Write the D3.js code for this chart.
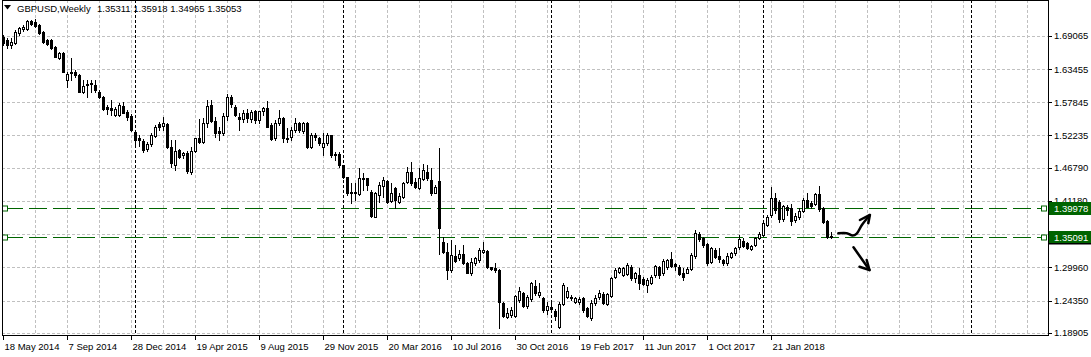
<!DOCTYPE html>
<html><head><meta charset="utf-8">
<script src="https://cdn.jsdelivr.net/npm/d3@7"></script>
<style>
body{margin:0;background:#fff;overflow:hidden}
svg{display:block}
text{font-family:"Liberation Sans",Arial,sans-serif;font-size:9.5px;fill:#000}
</style></head><body>
<svg id="chart" width="1091" height="357"></svg>
<script>
const title = "GBPUSD,Weekly";
const lastQuote = ["1.35311", "1.35918", "1.34965", "1.35053"];
const firstWeek = "2014-05-18";

const opens = [1.6891,1.6836,1.6756,1.6790,1.6959,1.7016,1.7021,1.7157,1.7135,1.7089,
1.6976,1.6836,1.6836,1.6723,1.6537,1.6611,1.6160,1.6273,1.6300,1.6244,
1.5962,1.6076,1.6092,1.6076,1.5962,1.5868,1.5709,1.5687,1.5569,1.5569,
1.5721,1.5625,1.5552,1.5287,1.5180,1.5135,1.4989,1.5074,1.5214,1.5412,
1.5383,1.5412,1.5034,1.4716,1.4978,1.4893,1.4932,1.4611,1.4961,1.5175,
1.5118,1.5429,1.5738,1.5473,1.5298,1.5260,1.5552,1.5878,1.5709,1.5540,
1.5496,1.5608,1.5496,1.5636,1.5484,1.5641,1.5682,1.5400,1.5175,1.5429,
1.5513,1.5186,1.5192,1.5315,1.5429,1.5304,1.5440,1.5034,1.5231,1.5175,
1.5034,1.5091,1.5231,1.4905,1.4910,1.4724,1.4516,1.4273,1.4256,1.4234,
1.4483,1.4499,1.4273,1.3851,1.4218,1.4370,1.4454,1.4116,1.4331,1.4104,
1.4189,1.4442,1.4601,1.4432,1.4331,1.4483,1.4611,1.4471,1.4256,1.4454,
1.3429,1.3260,1.2951,1.3187,1.3148,1.3221,1.3074,1.2900,1.3064,1.3119,
1.3260,1.3277,1.2996,1.2979,1.2951,1.2398,1.2152,1.2190,1.2174,1.2444,
1.2567,1.2342,1.2456,1.2680,1.2528,1.2483,1.2275,1.2320,1.2258,1.1993,
1.2376,1.2500,1.2500,1.2415,1.2405,1.2472,1.2313,1.2135,1.2388,1.2489,
1.2545,1.2376,1.2511,1.2827,1.2922,1.2866,1.2883,1.3006,1.2810,1.2866,
1.2793,1.2697,1.2726,1.2866,1.2996,1.2895,1.3006,1.3131,1.3052,1.3006,
1.2895,1.2905,1.2962,1.3187,1.3559,1.3486,1.3390,1.3091,1.3288,1.3187,
1.3119,1.3064,1.3165,1.3233,1.3334,1.3441,1.3407,1.3300,1.3373,1.3486,
1.3550,1.3711,1.3880,1.4161,1.4104,1.3807,1.4020,1.3993,1.3795,1.3841,
1.3952,1.4133,1.4087,1.4066,1.4235,1.3993,1.3783,1.35311];

const highs = [1.6920,1.6864,1.6869,1.7005,1.7055,1.7089,1.7174,1.7174,1.7182,1.7106,
1.6988,1.6853,1.6853,1.6734,1.6633,1.6633,1.6295,1.6526,1.6329,1.6261,
1.6160,1.6160,1.6160,1.6160,1.5991,1.5890,1.5738,1.5822,1.5704,1.5772,
1.5794,1.5653,1.5586,1.5315,1.5231,1.5163,1.5113,1.5265,1.5400,1.5456,
1.5540,1.5434,1.5146,1.5146,1.4995,1.4949,1.4961,1.5033,1.5180,1.5496,
1.5513,1.5822,1.5822,1.5540,1.5371,1.5597,1.5923,1.5907,1.5738,1.5597,
1.5653,1.5665,1.5653,1.5653,1.5641,1.5709,1.5810,1.5428,1.5484,1.5653,
1.5540,1.5344,1.5371,1.5513,1.5456,1.5456,1.5456,1.5260,1.5260,1.5203,
1.5260,1.5260,1.5231,1.4949,1.4949,1.4724,1.4527,1.4415,1.4415,1.4668,
1.4584,1.4510,1.4302,1.4273,1.4442,1.4527,1.4471,1.4415,1.4358,1.4246,
1.4442,1.4695,1.4780,1.4499,1.4668,1.4741,1.4724,1.4668,1.4386,1.5006,
1.3513,1.3401,1.3457,1.3373,1.3288,1.3373,1.3091,1.3148,1.3175,1.3317,
1.3429,1.3288,1.3006,1.3064,1.2962,1.2415,1.2304,1.2331,1.2528,1.2669,
1.2584,1.2528,1.2753,1.2782,1.2726,1.2500,1.2415,1.2415,1.2287,1.2410,
1.2726,1.2669,1.2528,1.2500,1.2494,1.2500,1.2331,1.2444,1.2528,1.2613,
1.2579,1.2567,1.2837,1.2979,1.3006,1.3006,1.3064,1.3035,1.2922,1.2979,
1.2837,1.2810,1.2866,1.3035,1.3018,1.3131,1.3131,1.3260,1.3074,1.3035,
1.2979,1.3006,1.3233,1.3626,1.3598,1.3513,1.3401,1.3344,1.3317,1.3317,
1.3131,1.3233,1.3260,1.3334,1.3542,1.3486,1.3429,1.3373,1.3513,1.3592,
1.3766,1.3880,1.4348,1.4246,1.4133,1.4049,1.4049,1.4066,1.3908,1.3993,
1.4161,1.4246,1.4121,1.4257,1.4369,1.4020,1.3795,1.35918];

const lows = [1.6751,1.6695,1.6700,1.6768,1.6920,1.6988,1.7005,1.7089,1.7055,1.6937,
1.6785,1.6751,1.6684,1.6548,1.6515,1.6295,1.6047,1.6160,1.6211,1.5957,
1.5935,1.5868,1.5962,1.5962,1.5856,1.5653,1.5586,1.5569,1.5552,1.5552,
1.5597,1.5484,1.5298,1.5023,1.5045,1.4949,1.4961,1.5045,1.5197,1.5315,
1.5315,1.5011,1.4695,1.4640,1.4837,1.4837,1.4589,1.4572,1.4949,1.5091,
1.5091,1.5371,1.5456,1.5202,1.5146,1.5231,1.5484,1.5709,1.5552,1.5315,
1.5456,1.5456,1.5456,1.5429,1.5429,1.5569,1.5360,1.5146,1.5146,1.5400,
1.5118,1.5118,1.5146,1.5287,1.5287,1.5260,1.5006,1.5006,1.5146,1.5062,
1.4893,1.5062,1.4865,1.4809,1.4696,1.4499,1.4218,1.4078,1.4133,1.4218,
1.4302,1.4302,1.3851,1.3840,1.4104,1.4189,1.4077,1.4104,1.3993,1.4077,
1.4162,1.4415,1.4386,1.4331,1.4314,1.4471,1.4471,1.4218,1.4246,1.3229,
1.3233,1.2793,1.2922,1.3091,1.3119,1.3052,1.2895,1.2866,1.3035,1.3091,
1.3233,1.2979,1.2951,1.2922,1.1966,1.2152,1.2135,1.2162,1.2152,1.2415,
1.2331,1.2303,1.2432,1.2528,1.2500,1.2246,1.2207,1.2246,1.2106,1.1966,
1.2359,1.2478,1.2444,1.2388,1.2376,1.2246,1.2157,1.2106,1.2359,1.2461,
1.2376,1.2359,1.2500,1.2810,1.2895,1.2849,1.2866,1.2782,1.2753,1.2624,
1.2697,1.2584,1.2714,1.2837,1.2810,1.2866,1.2962,1.2996,1.2951,1.2866,
1.2782,1.2895,1.2951,1.3148,1.3445,1.3344,1.3035,1.3064,1.3148,1.3091,
1.3035,1.3035,1.3148,1.3204,1.3300,1.3339,1.3300,1.3288,1.3356,1.3469,
1.3542,1.3694,1.3851,1.3908,1.3767,1.3783,1.3880,1.3711,1.3767,1.3807,
1.3935,1.4010,1.3993,1.4049,1.3952,1.3749,1.3486,1.34965];

const closes = [1.6780,1.6751,1.6802,1.6976,1.7033,1.7050,1.7157,1.7106,1.7072,1.6949,
1.6797,1.6768,1.6695,1.6554,1.6611,1.6300,1.6261,1.6300,1.6244,1.5962,
1.6059,1.6092,1.6104,1.5991,1.5868,1.5665,1.5665,1.5653,1.5665,1.5738,
1.5608,1.5540,1.5315,1.5146,1.5146,1.4978,1.5074,1.5231,1.5371,1.5371,
1.5429,1.5034,1.4750,1.4961,1.4859,1.4927,1.4628,1.4961,1.5175,1.5118,
1.5429,1.5721,1.5473,1.5270,1.5260,1.5552,1.5878,1.5755,1.5569,1.5496,
1.5597,1.5513,1.5614,1.5484,1.5636,1.5682,1.5371,1.5158,1.5439,1.5513,
1.5175,1.5158,1.5315,1.5429,1.5315,1.5429,1.5034,1.5231,1.5192,1.5091,
1.5101,1.5231,1.4893,1.4888,1.4724,1.4516,1.4246,1.4246,1.4273,1.4499,
1.4499,1.4386,1.3862,1.4246,1.4386,1.4471,1.4104,1.4246,1.4133,1.4200,
1.4415,1.4611,1.4415,1.4358,1.4499,1.4640,1.4499,1.4246,1.4358,1.3668,
1.3260,1.2951,1.3204,1.3108,1.3221,1.3064,1.2905,1.3091,1.3148,1.3288,
1.3288,1.2996,1.2962,1.2951,1.2415,1.2174,1.2229,1.2275,1.2511,1.2596,
1.2342,1.2500,1.2726,1.2557,1.2584,1.2275,1.2342,1.2287,1.2179,1.2376,
1.2697,1.2596,1.2472,1.2472,1.2461,1.2275,1.2174,1.2398,1.2483,1.2557,
1.2393,1.2540,1.2810,1.2951,1.2979,1.2989,1.3035,1.2810,1.2905,1.2736,
1.2714,1.2782,1.2837,1.3018,1.2866,1.3108,1.3119,1.3018,1.3018,1.2883,
1.2837,1.2962,1.3204,1.3582,1.3469,1.3373,1.3064,1.3317,1.3175,1.3131,
1.3064,1.3187,1.3233,1.3317,1.3469,1.3351,1.3317,1.3356,1.3486,1.3564,
1.3736,1.3851,1.4161,1.3964,1.3807,1.4032,1.3964,1.3783,1.3863,1.3952,
1.4133,1.4020,1.4032,1.4235,1.3976,1.3767,1.3503,1.35053];

const priceTicks = [1.69065,1.63455,1.57845,1.52235,1.46790,1.41180,1.35570,1.29960,1.24350,1.18905];
const dateLabels = ["18 May 2014","7 Sep 2014","28 Dec 2014","19 Apr 2015","9 Aug 2015","29 Nov 2015",
"20 Mar 2016","10 Jul 2016","30 Oct 2016","19 Feb 2017","11 Jun 2017","1 Oct 2017","21 Jan 2018"];
const levels = [1.39978, 1.35091];
// hand drawn arrows, in (bar index, price)
const arrowUp = [[208.7,1.3570],[210.8,1.3572],[212.3,1.3532],[213.3,1.3566],[214.6,1.3711],[216.6,1.3880]];
const arrowUpHead = [[214.1,1.3795],[216.6,1.3880],[216.2,1.3739]];
const arrowDown = [[212.5,1.3334],[216.5,1.2950]];
const arrowDownHead = [[214.0,1.3006],[216.5,1.2950],[215.8,1.3119]];

const svg = d3.select("#chart");
const plotL = 2, plotR = 1048, plotT = 0, plotB = 335;
const nSlots = 262;
const x = d3.scaleLinear().domain([0, nSlots - 1]).range([3.5, 3.5 + 4 * (nSlots - 1)]);
const y = d3.scaleLinear().domain([1.18905, 1.69065]).range([332.75, 35.8]);

const parse = d3.timeParse("%Y-%m-%d");
const parseLbl = d3.timeParse("%d %b %Y");
const t0 = parse(firstWeek);
const weekIndex = d => Math.round((d - t0) / (7 * 864e5));
const bars = opens.map((o, i) => ({i, o, h: highs[i], l: lows[i], c: closes[i]}));

const g = svg.append("g");
// vertical grid
const gridIdx = d3.range(8, nSlots, 8).filter(i => x(i) < plotR - 1);
g.selectAll(".vg").data(gridIdx).join("line")
  .attr("x1", d => x(d)).attr("x2", d => x(d)).attr("y1", plotT).attr("y2", plotB)
  .attr("stroke", "#c0c0c0").attr("stroke-dasharray", "3,2");
// horizontal grid
g.selectAll(".hg").data(priceTicks).join("line")
  .attr("x1", plotL).attr("x2", plotR).attr("y1", d => Math.round(y(d)) + 0.5).attr("y2", d => Math.round(y(d)) + 0.5)
  .attr("stroke", "#c0c0c0").attr("stroke-dasharray", "3,2");
// year separators
const sepIdx = d3.range(1, nSlots).filter(i => d3.timeWeek.offset(t0, i).getFullYear() !== d3.timeWeek.offset(t0, i - 1).getFullYear());
g.selectAll(".sep").data(sepIdx).join("line")
  .attr("x1", d => x(d)).attr("x2", d => x(d)).attr("y1", plotT).attr("y2", plotB)
  .attr("stroke", "#000").attr("stroke-dasharray", "3,2");

// level lines
const green = "#006400";
g.selectAll(".lvl").data(levels).join("line")
  .attr("x1", 5).attr("x2", 1044).attr("y1", d => Math.round(y(d)) + 0.5).attr("y2", d => Math.round(y(d)) + 0.5)
  .attr("stroke", green).attr("stroke-dasharray", "18,6");

// candles
const cg = svg.append("g");
bars.forEach(b => {
  const cx = x(b.i);
  const yh = Math.round(y(b.h)), yl = Math.round(y(b.l));
  const yt = Math.round(y(Math.max(b.o, b.c))), yb = Math.round(y(Math.min(b.o, b.c)));
  cg.append("rect").attr("x", cx - 0.5).attr("width", 1).attr("y", yh).attr("height", Math.max(1, yl - yh + 1)).attr("fill", "#000");
  const hgt = Math.max(1, yb - yt + 1);
  cg.append("rect").attr("x", cx - 1.5).attr("width", 3).attr("y", yt).attr("height", hgt).attr("fill", "#000");
  if (b.c > b.o && hgt > 2) {
    cg.append("rect").attr("x", cx - 0.5).attr("width", 1).attr("y", yt + 1).attr("height", hgt - 2).attr("fill", "#fff");
  }
});

// level markers
g.selectAll(".mk").data(levels.flatMap(v => [[5, v], [1044, v]])).join("rect")
  .attr("x", d => d[0] - 2.5).attr("y", d => Math.round(y(d[1])) - 2).attr("width", 5).attr("height", 5)
  .attr("fill", "#fff").attr("stroke", green);

// arrows
const line = d3.line().x(d => x(d[0])).y(d => y(d[1])).curve(d3.curveCatmullRom);
const lineStraight = d3.line().x(d => x(d[0])).y(d => y(d[1]));
const ag = svg.append("g").attr("fill", "none").attr("stroke", "#000").attr("stroke-width", 2.5)
  .attr("stroke-linecap", "round").attr("stroke-linejoin", "round");
ag.append("path").attr("d", line(arrowUp));
ag.append("path").attr("d", lineStraight(arrowUpHead));
ag.append("path").attr("d", lineStraight(arrowDown));
ag.append("path").attr("d", lineStraight(arrowDownHead));

// frame
svg.append("rect").attr("x", plotL + 0.5).attr("y", plotT + 0.5).attr("width", plotR - plotL).attr("height", plotB - plotT)
  .attr("fill", "none").attr("stroke", "#000");

// right axis
const ra = svg.append("g");
ra.selectAll(".rt").data(priceTicks).join("line")
  .attr("x1", plotR + 0.5).attr("x2", plotR + 4).attr("y1", d => Math.round(y(d)) + 0.5).attr("y2", d => Math.round(y(d)) + 0.5)
  .attr("stroke", "#000");
// labels hidden by the level boxes are clipped like the terminal does
const boxTop = Math.round(y(levels[0])) - 6;
svg.append("clipPath").attr("id", "aboveBox").append("rect").attr("x", 1049).attr("y", 0).attr("width", 42).attr("height", boxTop);
const shown = priceTicks.filter(v => !levels.some(l => Math.abs(y(l) - y(v)) < 6));
ra.selectAll(".rl").data(shown).join("text")
  .attr("x", 1054).attr("y", d => y(d) + 3.5)
  .attr("clip-path", d => Math.abs(y(d) - y(levels[0])) < 12 ? "url(#aboveBox)" : null)
  .text(d => d.toFixed(5));

// level boxes
levels.forEach((v, k) => {
  const yy = Math.round(y(v));
  ra.append("rect").attr("x", 1049).attr("y", yy - 6).attr("width", 42).attr("height", 13).attr("fill", green);
  if (k === 1) ra.append("rect").attr("x", 1049).attr("y", yy + 6).attr("width", 42).attr("height", 1.5).attr("fill", "#000");
  ra.append("text").attr("x", 1054).attr("y", yy + 4).style("fill", "#fff").text(v.toFixed(5));
});

// bottom axis
const ba = svg.append("g");
const lblIdx = dateLabels.map(s => weekIndex(parseLbl(s)));
ba.selectAll(".bt").data(lblIdx).join("line")
  .attr("x1", d => Math.round(x(d)) - 0.5).attr("x2", d => Math.round(x(d)) - 0.5).attr("y1", plotB).attr("y2", plotB + 5)
  .attr("stroke", "#000");
ba.selectAll(".bl").data(dateLabels).join("text")
  .attr("x", (d, k) => x(lblIdx[k]) + 1).attr("y", 350).text(d => d);

// title
svg.append("path").attr("d", "M4,5 L11,5 L7.5,9.5 Z").attr("fill", "#000");
svg.append("text").attr("x", 17).attr("y", 12).text(title);
svg.append("text").attr("x", 97).attr("y", 12).text(lastQuote.join(" "));
</script></body></html>
